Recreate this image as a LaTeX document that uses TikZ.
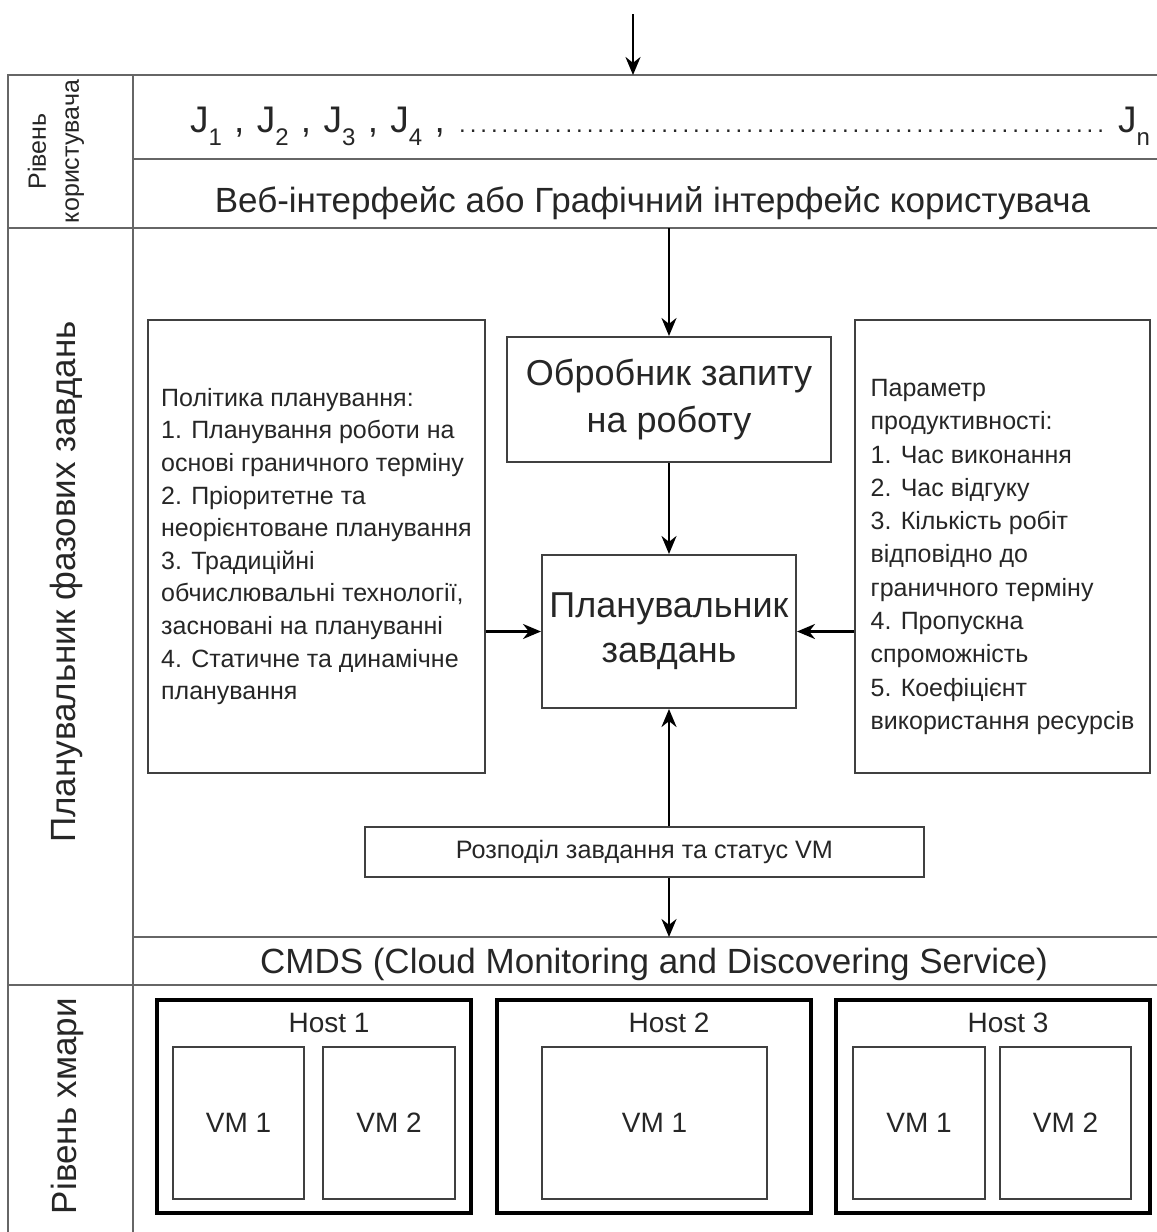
\documentclass[tikz,border=0pt]{standalone}
\usepackage{fontspec}
\setmainfont{Liberation Sans}
\usetikzlibrary{arrows.meta}

\newcommand{\fsz}[2]{\fontsize{#1}{#2}\selectfont}
\newcommand{\job}[1]{J\raisebox{-0.7ex}{\fsz{12}{12}#1}}
\newcommand{\jobdots}{\xleaders\hbox to 5.3pt{\hss\fsz{12}{12}.\hss}\hfill}

\begin{document}
\begin{tikzpicture}[%
      x=1pt, y=-1pt,
      grid/.style={draw=black!60, line width=1.2pt},
      txt/.style={text=black!85, inner sep=0pt},
      box/.style={draw=black!75, line width=1pt, inner sep=0pt, text=black!85},
      host/.style={draw=black, line width=2.4pt, minimum width=157pt, minimum height=106.5pt},
      vm/.style={box, minimum height=76pt, font=\fsz{14}{16}},
      arr/.style={-{Stealth[length=9pt,width=7.5pt]}, line width=1.3pt, black},
      ]
      \useasboundingbox (0,0) rectangle (578.5,616);

      \draw [grid] (582,37.5) -- (4,37.5) -- (4,620);
      \draw [grid] (66.5,37.5) -- (66.5,620);
      \draw [grid] (66.5,79.5) -- (582,79.5);
      \draw [grid] (4,114) -- (582,114);
      \draw [grid] (66.5,468.5) -- (582,468.5);
      \draw [grid] (4,492.5) -- (582,492.5);

      \node [txt, rotate=90, align=center, font=\fsz{12.5}{16.5}] (userlvl) at (28,75.75) {Рівень\\користувача};
      \node [txt, rotate=90, font=\fsz{17.5}{20}] (schedlvl) at (33,291) {Планувальник фазових завдань};
      \node [txt, rotate=90, font=\fsz{17.5}{20}] (cloudlvl) at (33.5,553) {Рівень хмари};

      \node [txt, anchor=base, text width=480pt, font=\fsz{18.5}{22}] (jobs) at (335,66)
            {\job{1} , \job{2} , \job{3} , \job{4} , \jobdots\ \job{n}};
      \node [txt, anchor=base, font=\fsz{17.5}{20}] (ui) at (326.25,106.25)
            {Веб-інтерфейс або Графічний інтерфейс користувача};
      \node [txt, anchor=base, font=\fsz{17.5}{20}] (cmds) at (327,486.5)
            {CMDS (Cloud Monitoring and Discovering Service)};

      \node [box, minimum width=162pt, minimum height=62.5pt, align=center, font=\fsz{18}{23.5}] (handler)
            at (334.5,199.75) {Обробник запиту\\на роботу};
      \node [box, minimum width=127pt, minimum height=76.5pt, align=center, font=\fsz{18}{22.5}] (sched)
            at (334.5,315.75) {Планувальник\\завдань};
      \node [box, minimum width=168.5pt, minimum height=226.5pt, align=left, font=\fsz{12.5}{16.3}] (policy)
            at (158.25,273.25) {Політика планування:\\
            1. Планування роботи на\\
            основі граничного терміну\\
            2. Пріоритетне та\\
            неорієнтоване планування\\
            3. Традиційні\\
            обчислювальні технології,\\
            засновані на плануванні\\
            4. Статичне та динамічне\\
            планування};
      \node [box, minimum width=147.5pt, minimum height=226.5pt, align=left, font=\fsz{12.5}{16.65}] (param)
            at (501.25,273.25) {\rule{0pt}{19pt}Параметр\\
            продуктивності:\\
            1. Час виконання\\
            2. Час відгуку\\
            3. Кількість робіт\\
            відповідно до\\
            граничного терміну\\
            4. Пропускна\\
            спроможність\\
            5. Коефіцієнт\\
            використання ресурсів};
      \node [box, minimum width=279.5pt, minimum height=25pt, font=\fsz{12.6}{15}] (dist)
            at (322.25,426) {Розподіл завдання та статус VM};

      \coordinate (input) at (316.5,7);
      \coordinate (frametop) at (316.5,37.5);
      \coordinate (uibot) at (334.5,114);
      \coordinate (cmdstop) at (334.5,468.5);

      \draw [arr] (input) -- (frametop);
      \draw [arr] (uibot) -- (handler.north);
      \draw [arr] (handler.south) -- (sched.north);
      \draw [arr] (policy.east |- sched.west) -- (sched.west);
      \draw [arr] (param.west |- sched.east) -- (sched.east);
      \draw [arr] (dist.north -| sched.south) -- (sched.south);
      \draw [arr] (dist.south -| sched.south) -- (cmdstop);

      \node [host] (host1) at (157,553.25) {};
      \node [host] (host2) at (327,553.25) {};
      \node [host] (host3) at (496.5,553.25) {};

      \node [txt, anchor=base, font=\fsz{14}{16}] (host1lbl) at (164.5,516) {Host 1};
      \node [txt, anchor=base, font=\fsz{14}{16}] (host2lbl) at (334.5,516) {Host 2};
      \node [txt, anchor=base, font=\fsz{14}{16}] (host3lbl) at (504,516) {Host 3};

      \node [vm, minimum width=65.5pt] (h1vm1) at (119.25,561.5) {VM 1};
      \node [vm, minimum width=66pt] (h1vm2) at (194.5,561.5) {VM 2};
      \node [vm, minimum width=112.5pt] (h2vm1) at (327.25,561.5) {VM 1};
      \node [vm, minimum width=66pt] (h3vm1) at (459.5,561.5) {VM 1};
      \node [vm, minimum width=65.5pt] (h3vm2) at (532.75,561.5) {VM 2};
\end{tikzpicture}
\end{document}
